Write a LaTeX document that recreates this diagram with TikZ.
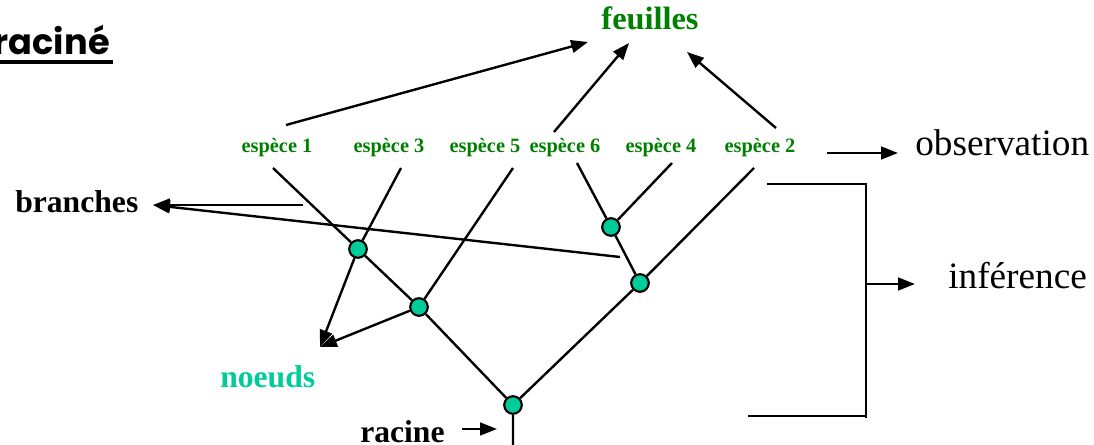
\documentclass[tikz,border=0pt]{standalone}
\usepackage{fontspec}
\setmainfont{Liberation Serif}
\newfontfamily\titrefont{Poppins}
\usetikzlibrary{arrows.meta}
\definecolor{vertesp}{RGB}{0,128,0}
\definecolor{turquoise}{RGB}{0,204,153}
\tikzset{
  espece/.style  = {font=\bfseries\fontsize{14.5}{17}\selectfont,
                    text=vertesp, anchor=base, inner sep=0pt},
  label/.style   = {font=\bfseries\fontsize{22.5}{26}\selectfont,
                    anchor=base west, inner sep=0pt},
  grand/.style   = {font=\fontsize{26.5}{30}\selectfont,
                    anchor=base west, inner sep=0pt},
  titre/.style   = {font=\titrefont\bfseries\fontsize{25}{28}\selectfont,
                    anchor=base east, inner sep=0pt},
  noeud/.style   = {circle, draw, fill=turquoise, line width=1.5pt,
                    minimum size=12.5pt, inner sep=0pt},
  branche/.style = {line width=1.7pt},
  fleche/.style  = {line width=1.7pt, -{Triangle[length=12pt,width=9pt]}}
}
\begin{document}
\begin{tikzpicture}[x=0.025cm, y=-0.025cm]
  \useasboundingbox (0,0) rectangle (1094,445);
  \clip (0,0) rectangle (1094,445);

  % titre coupe
  \node[titre] (titre) at (110,55) {enraciné};
  \draw[line width=2.4pt] ([yshift=-5pt]titre.base west) -- ([yshift=-5pt]113,55);

  % feuilles
  \node[label, anchor=base, text=vertesp, font=\bfseries\fontsize{23}{26}\selectfont]
    (feuilles) at (650,30) {feuilles};
  \node[espece] (e1) at (277,153) {espèce 1};
  \node[espece] (e3) at (389,153) {espèce 3};
  \node[espece] (e5) at (485,153) {espèce 5};
  \node[espece] (e6) at (565,153) {espèce 6};
  \node[espece] (e4) at (661,153) {espèce 4};
  \node[espece] (e2) at (760,153) {espèce 2};

  % textes
  \node[grand] (obs) at (915,156) {observation};
  \node[grand] (inf) at (948,289) {inférence};
  \node[label] (branches) at (15,213) {branches};
  \node[label, text=turquoise] (noeuds) at (220,388) {noeuds};
  \node[label] (racine) at (360,443) {racine};

  % noeuds internes
  \node[noeud] (A) at (358,249) {};
  \node[noeud] (B) at (419,307) {};
  \node[noeud] (C) at (611,227) {};
  \node[noeud] (D) at (640,283) {};
  \node[noeud] (R) at (513,405) {};

  % bouts libres
  \coordinate (b1) at (273,168);
  \coordinate (b3) at (401,168);
  \coordinate (b5) at (513,168);
  \coordinate (b6) at (577,163);
  \coordinate (b4) at (672,163);
  \coordinate (b2) at (754,168);
  \coordinate (rbas) at (513,450);
  \coordinate (btip) at (153,205);
  \coordinate (ntip) at (320,347);

  % arbre
  \draw[branche] (b1) -- (A) -- (B) -- (R) -- (rbas);
  \draw[branche] (b3) -- (A);
  \draw[branche] (b5) -- (B);
  \draw[branche] (b6) -- (C);
  \draw[branche] (b4) -- (C);
  \draw[branche] (C) -- (D);
  \draw[branche] (b2) -- (D) -- (R);

  % fleches vers les feuilles
  \draw[fleche] (286,125) -- (588,42);
  \draw[fleche] (554,132) -- (629,43);
  \draw[fleche] (776,128) -- (687,52);

  % branches et noeuds
  \draw[fleche] (303,205) -- (btip);
  \draw[fleche] (620,257) -- (btip);
  \draw[fleche] (A) -- (ntip);
  \draw[fleche] (B) -- (ntip);
  \draw[fleche] (462,429) -- (497,429);

  % observation / inference
  \draw[fleche] (827,153) -- (898,153);
  \draw[branche] (767,184) -| (866,418);
  \draw[branche] (748,416) -- (866,416);
  \draw[fleche] (866,284) -- (915,284);
\end{tikzpicture}
\end{document}
